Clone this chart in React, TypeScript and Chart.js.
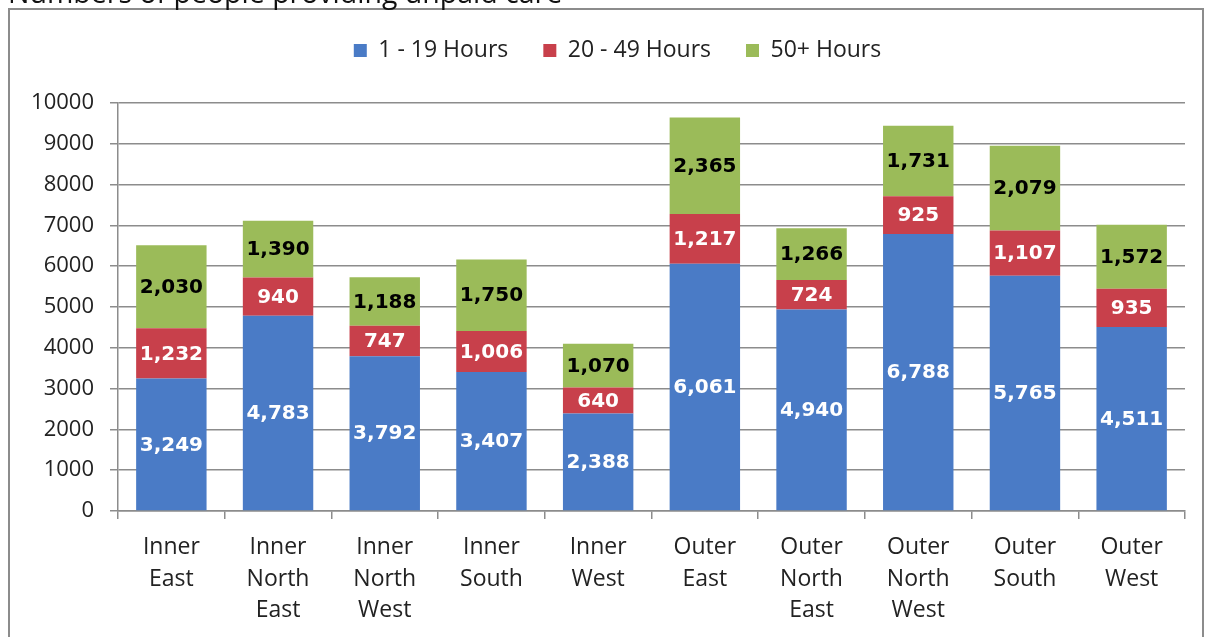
import React, { useEffect, useRef } from "react";
import { Chart, registerables } from "chart.js";

Chart.register(...registerables);

const titleText = "Numbers of people providing unpaid care";
const categories: string[][] = [
  ["Inner", "East"],
  ["Inner", "North", "East"],
  ["Inner", "North", "West"],
  ["Inner", "South"],
  ["Inner", "West"],
  ["Outer", "East"],
  ["Outer", "North", "East"],
  ["Outer", "North", "West"],
  ["Outer", "South"],
  ["Outer", "West"],
];
const seriesNames = ["1 - 19 Hours", "20 - 49 Hours", "50+ Hours"];
const hours1to19 = [3249, 4783, 3792, 3407, 2388, 6061, 4940, 6788, 5765, 4511];
const hours20to49 = [1232, 940, 747, 1006, 640, 1217, 724, 925, 1107, 935];
const hours50plus = [2030, 1390, 1188, 1750, 1070, 2365, 1266, 1731, 2079, 1572];
const yTicks = { min: 0, max: 10000, step: 1000 };

const colors = ["#4A7BC6", "#C8404B", "#9BBB59"];
const labelColors = ["#ffffff", "#ffffff", "#000000"];

const fmt = (v: number) => v.toLocaleString("en-US");

const LAYOUT_TOP = 4;
const PLOT_TOP = 103;
const LEGEND_SHIFT = 20;

const decorPlugin = {
  id: "decor",
  beforeUpdate(chart: any) {
    const lg = chart.legend;
    if (lg && !lg.__patched) {
      const orig = lg.fit;
      lg.fit = function (this: any) {
        orig.call(this);
        this.height = PLOT_TOP - LAYOUT_TOP;
        if (this.lineWidths && this.lineWidths.length) {
          this.lineWidths[0] -= LEGEND_SHIFT * 2;
        }
      };
      lg.__patched = true;
    }
  },
  beforeDraw(chart: any) {
    const ctx = chart.ctx;
    ctx.save();
    ctx.fillStyle = "#ffffff";
    ctx.fillRect(0, 0, chart.width, chart.height);
    ctx.strokeStyle = "#8c8c8c";
    ctx.lineWidth = 2;
    ctx.strokeRect(9, 9, chart.width - 12, chart.height + 10);
    ctx.restore();
  },
  afterDraw(chart: any) {
    const ctx = chart.ctx;
    ctx.save();
    ctx.font = "28.5px 'Open Sans'";
    ctx.fillStyle = "#111111";
    ctx.textBaseline = "alphabetic";
    ctx.textAlign = "left";
    ctx.fillText(titleText, 8, 3);
    ctx.restore();
  },
};

const valueLabelPlugin = {
  id: "valueLabels",
  afterDatasetsDraw(chart: any) {
    const ctx = chart.ctx;
    ctx.save();
    ctx.font = "bold 20px 'DejaVu Sans'";
    ctx.textAlign = "center";
    ctx.textBaseline = "middle";
    chart.data.datasets.forEach((ds: any, di: number) => {
      const meta = chart.getDatasetMeta(di);
      meta.data.forEach((el: any, i: number) => {
        const v = ds.data[i];
        const cy = (el.y + el.base) / 2;
        ctx.fillStyle = labelColors[di];
        ctx.fillText(fmt(v), el.x, cy + 1);
      });
    });
    ctx.restore();
  },
};

export default function App() {
  const ref = useRef<HTMLCanvasElement | null>(null);
  useEffect(() => {
    if (!ref.current) return;
    Chart.defaults.font.family = "'Open Sans'";
    const series = [hours1to19, hours20to49, hours50plus];
    const chart = new Chart(ref.current, {
      type: "bar",
      data: {
        labels: categories,
        datasets: series.map((d, i) => ({
          label: seriesNames[i],
          data: d,
          backgroundColor: colors[i],
          borderWidth: 0,
          barPercentage: 0.66,
          categoryPercentage: 1,
        })),
      },
      options: {
        animation: false,
        responsive: false,
        maintainAspectRatio: false,
        layout: { padding: { left: 10, right: 21, top: LAYOUT_TOP, bottom: 0 } },
        plugins: {
          legend: {
            position: "top",
            labels: {
              boxWidth: 13,
              boxHeight: 13,
              padding: 35,
              color: "#222222",
              font: { size: 23, family: "'Open Sans'" },
            },
          },
          tooltip: { enabled: false },
        },
        scales: {
          x: {
            stacked: true,
            offset: true,
            grid: {
              display: true,
              offset: true,
              drawOnChartArea: false,
              drawTicks: true,
              tickLength: 8,
              color: "#8c8c8c",
              lineWidth: 1.5,
            },
            border: { display: true, color: "#8c8c8c", width: 1.5 },
            ticks: {
              color: "#222222",
              padding: 13,
              maxRotation: 0,
              autoSkip: false,
              font: { size: 23, lineHeight: 1.37 },
            },
            afterFit(scale: any) {
              scale.height = 126;
            },
          },
          y: {
            stacked: true,
            min: yTicks.min,
            max: yTicks.max,
            grid: {
              color: "#8c8c8c",
              lineWidth: 1.5,
              tickLength: 8,
              drawTicks: true,
            },
            border: { display: true, color: "#8c8c8c", width: 1.5 },
            ticks: {
              stepSize: yTicks.step,
              color: "#222222",
              padding: 16,
              font: { size: 22 },
              callback: (v: any) => String(v),
            },
            afterFit(scale: any) {
              scale.width = 108;
            },
          },
        },
      },
      plugins: [decorPlugin, valueLabelPlugin],
    } as any);
    return () => chart.destroy();
  }, []);
  return (
    <div style={{ position: "fixed", left: 0, top: 0, width: 1206, height: 637 }}>
      <canvas ref={ref} width={1206} height={637} style={{ width: 1206, height: 637, display: "block" }} />
    </div>
  );
}
